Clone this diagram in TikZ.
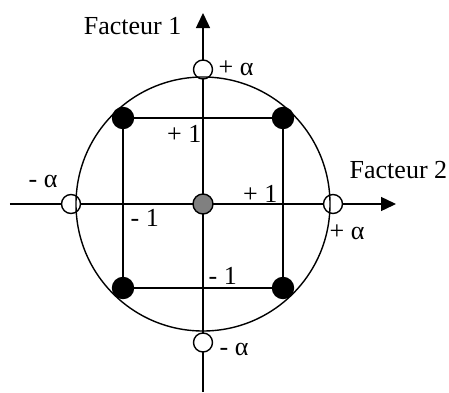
\documentclass[tikz,border=0pt]{standalone}
\usepackage{fontspec}
\setmainfont{Liberation Serif}
\usetikzlibrary{arrows.meta}
\tikzset{
	fulldot/.style={circle, draw, fill=black, minimum size=10.5pt, inner sep=0pt},
	opendot/.style={circle, draw, fill=white, minimum size=9.5pt, inner sep=0pt},
	centerdot/.style={circle, draw, fill=gray, minimum size=10pt, inner sep=0pt},
	lbl/.style={inner sep=0pt, font=\fontsize{13}{15}\selectfont},
	axis/.style={-{Triangle[length=7.5pt, width=7pt]}}
}
\begin{document}
\begin{tikzpicture}[x=0.5pt, y=0.5pt, line width=0.7pt]
		\useasboundingbox (-203, -188) rectangle (246, 204);
		% axes
		\coordinate (O) at (0, 0);
		\coordinate (xs) at (-193, 0);
		\coordinate (xe) at (193, 0);
		\coordinate (ys) at (0, -188);
		\coordinate (ye) at (0, 191);
		\draw[axis] (xs) -- (xe);
		\draw[axis] (ys) -- (ye);
		% star points
		\node[opendot] (am) at (-132, 0) {};
		\node[opendot] (ap) at (130, 0) {};
		\node[opendot] (bp) at (0, 134.5) {};
		\node[opendot] (bm) at (0, -138.5) {};
		\draw (O) circle [radius=63.5pt];
		% factorial points
		\coordinate (mp) at (-80, 86);
		\coordinate (pp) at (80, 86);
		\coordinate (pm) at (80, -84);
		\coordinate (mm) at (-80, -84);
		\draw (mp) -- (pp) -- (pm) -- (mm) -- cycle;
		\foreach \c in {mp, pp, pm, mm}{
			\node[fulldot] at (\c) {};
		}
		\node[centerdot] (c0) at (O) {};
		% labels
		\node[lbl, anchor=base east] (f1) at (-21, 170) {Facteur 1};
		\node[lbl, anchor=base west] (f2) at (146, 26) {Facteur 2};
		\node[lbl, anchor=base west] at (15, 129) {+ α};
		\node[lbl, anchor=base west] at (16, -151) {- α};
		\node[lbl, anchor=base west] at (-175, 17) {- α};
		\node[lbl, anchor=base west] at (126, -35) {+ α};
		\node[lbl, anchor=base east] at (-1, 62) {+ 1};
		\node[lbl, anchor=base east] at (75, 2) {+ 1};
		\node[lbl, anchor=base west] at (-73, -22) {- 1};
		\node[lbl, anchor=base west] at (5, -80) {- 1};
	\end{tikzpicture}
\end{document}
